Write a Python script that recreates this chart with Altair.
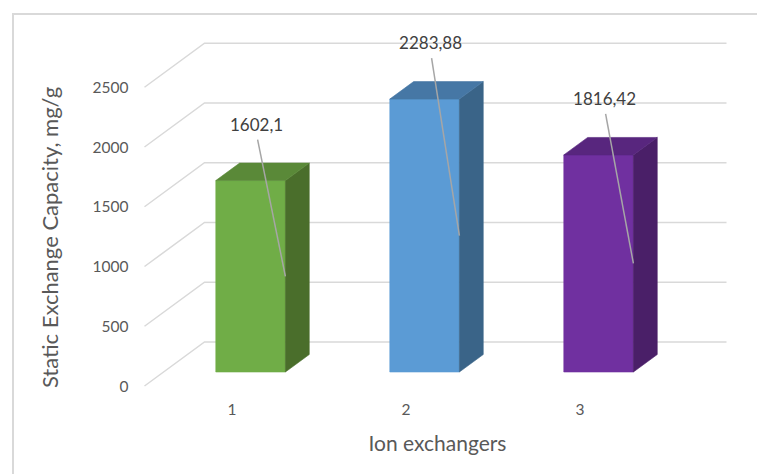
import altair as alt
import pandas as pd

# ---- chart values -------------------------------------------------------
exchangers = [1, 2, 3]
capacity = [1602.1, 2283.88, 1816.42]
front_colors = ["#70AD47", "#5B9BD5", "#7030A0"]
top_colors = ["#5A8938", "#4677A5", "#58267E"]
side_colors = ["#4A6E2B", "#3A6488", "#4A1F68"]
y_ticks = [0, 500, 1000, 1500, 2000, 2500]

# ---- layout / pseudo-3D geometry ---------------------------------------
PLOT_W, PLOT_H = 622, 395
PAD_L, PAD_B = 135, 79
PX_PER_CAT = 174.0          # horizontal pixels per category step
PX_PER_UNIT = 0.1195        # vertical pixels per value unit
DEPTH_X = 60 / PX_PER_CAT   # floor depth, in category units
DEPTH_Y = 44 / PX_PER_UNIT  # floor depth, in value units
T_FRONT, T_BACK = 14 / 44, 31.5 / 44   # bar front / back along the depth
HALF_W = 0.2                # half bar width, in category units
FLOOR_L, FLOOR_R = 0.5, 3.5
LABEL_LIFT = 55 / PX_PER_UNIT
LABEL_NUDGE = 6 / PX_PER_CAT

x_min = 1 - (231.5 - PAD_L) / PX_PER_CAT
x_scale = alt.Scale(domain=[x_min, x_min + PLOT_W / PX_PER_CAT], nice=False, zero=False)
y_scale = alt.Scale(domain=[(386 - PLOT_H) / PX_PER_UNIT, 386 / PX_PER_UNIT], nice=False, zero=False)


def proj(x, v, t):
    """Oblique projection of a point (category x, value v, depth t)."""
    return x + t * DEPTH_X, v + t * DEPTH_Y


GREY = "#595959"
FONT = "Lato"

x_axis = alt.Axis(
    values=exchangers, format="d", domain=False, ticks=False, grid=False,
    labelPadding=7, labelFont=FONT, labelFontSize=15.5, labelColor=GREY,
    title="Ion exchangers", titleFont=FONT, titleFontSize=21, titleColor=GREY,
    titleFontWeight="normal", titleX=302, titleY=55,
    titleBaseline="alphabetic", titleAlign="center",
)
y_axis = alt.Axis(
    values=y_ticks, format="d", domain=False, ticks=False, grid=False,
    labelPadding=7, labelFont=FONT, labelFontSize=15.5, labelColor=GREY,
    title="Static Exchange Capacity, mg/g", titleFont=FONT, titleFontSize=22,
    titleColor=GREY, titleFontWeight="normal", titleAngle=270,
    titleX=-78, titleY=237, titleBaseline="alphabetic", titleAlign="center",
)


def X(field, stack=False):
    return alt.X(f"{field}:Q", scale=x_scale, axis=x_axis, stack=stack)


def Y(field, stack=False):
    return alt.Y(f"{field}:Q", scale=y_scale, axis=y_axis, stack=stack)


# ---- tables built from the values ---------------------------------------
grid_rows = []
for tk in y_ticks:
    for k, (gx, t) in enumerate([(FLOOR_L, 0), (FLOOR_L, 1), (FLOOR_R, 1)]):
        px, py = proj(gx, tk, t)
        grid_rows.append({"tick": tk, "k": k, "X": px, "Y": py})
grid_df = pd.DataFrame(grid_rows)

front_rows, side_rows, top_rows, lead_rows, label_rows = [], [], [], [], []
for c, v, fc, tc, sc in zip(exchangers, capacity, front_colors, top_colors, side_colors):
    xl, y0 = proj(c - HALF_W, 0, T_FRONT)
    xr, yv = proj(c + HALF_W, v, T_FRONT)
    front_rows.append({"bar": c, "X": xl, "X2": xr, "Y": y0, "Y2": yv, "col": fc})
    for t in (T_FRONT, T_BACK):
        sx, sy0 = proj(c + HALF_W, 0, t)
        _, syv = proj(c + HALF_W, v, t)
        side_rows.append({"bar": c, "X": sx, "Y": sy0, "Y2": syv, "col": sc})
        lx, ty = proj(c - HALF_W, v, t)
        rx, _ = proj(c + HALF_W, v, t)
        top_rows.append({"bar": c, "Y": ty, "X": lx, "X2": rx, "col": tc})
    cx, cy = proj(c, v, T_FRONT)
    lab_x, lab_y = cx + LABEL_NUDGE, cy + LABEL_LIFT
    label_rows.append({"bar": c, "value": v, "X": lab_x, "Y": lab_y})
    ex, ey = proj(c + HALF_W, v / 2, T_FRONT)
    lead_rows.append({"bar": c, "X": lab_x + 1 / PX_PER_CAT,
                      "Y": lab_y - 14 / PX_PER_UNIT, "X2": ex, "Y2": ey})

front_df = pd.DataFrame(front_rows)
side_df = pd.DataFrame(side_rows)
top_df = pd.DataFrame(top_rows)
lead_df = pd.DataFrame(lead_rows)
label_df = pd.DataFrame(label_rows)

# ---- layers --------------------------------------------------------------
frame = alt.Chart(pd.DataFrame({"k": [0]})).mark_rect(
    fillOpacity=0, stroke="#D9D9D9", strokeWidth=2
).encode(
    x=alt.value(13 - PAD_L), x2=alt.value(PLOT_W + 40),
    y=alt.value(14), y2=alt.value(PLOT_H + PAD_B + 40),
)

grid = alt.Chart(grid_df).mark_line(color="#D9D9D9", strokeWidth=1.5).encode(
    x=X("X"), y=Y("Y"), detail="tick:N", order="k:O"
)

front = alt.Chart(front_df).mark_rect(strokeWidth=0.6).encode(
    x=X("X"), x2="X2", y=Y("Y"), y2="Y2",
    fill=alt.Fill("col:N", scale=None), stroke=alt.Stroke("col:N", scale=None),
)

side = alt.Chart(side_df).mark_area(orient="vertical", strokeWidth=0.6).encode(
    x=X("X"), y=Y("Y"), y2="Y2", detail="bar:N",
    fill=alt.Fill("col:N", scale=None), stroke=alt.Stroke("col:N", scale=None),
)

top = alt.Chart(top_df).mark_area(orient="horizontal", strokeWidth=0.6).encode(
    y=Y("Y"), x=X("X"), x2="X2", detail="bar:N",
    fill=alt.Fill("col:N", scale=None), stroke=alt.Stroke("col:N", scale=None),
)

leaders = alt.Chart(lead_df).mark_rule(color="#A6A6A6", strokeWidth=1.5).encode(
    x=X("X"), y=Y("Y"), x2="X2", y2="Y2"
)

labels = alt.Chart(label_df).transform_calculate(
    txt="replace(toString(datum.value), '.', ',')"
).mark_text(font=FONT, fontSize=17, color="#404040", baseline="middle", align="center").encode(
    x=X("X"), y=Y("Y"), text="txt:N"
)

chart = alt.layer(frame, grid, front, side, top, leaders, labels).properties(
    width=PLOT_W,
    height=PLOT_H,
    autosize=alt.AutoSizeParams(type="none"),
    padding={"left": PAD_L, "top": 0, "right": 0, "bottom": PAD_B},
    background="white",
).configure_view(stroke=None)

chart.save("out.html", embed_options={"renderer": "svg", "actions": False})
